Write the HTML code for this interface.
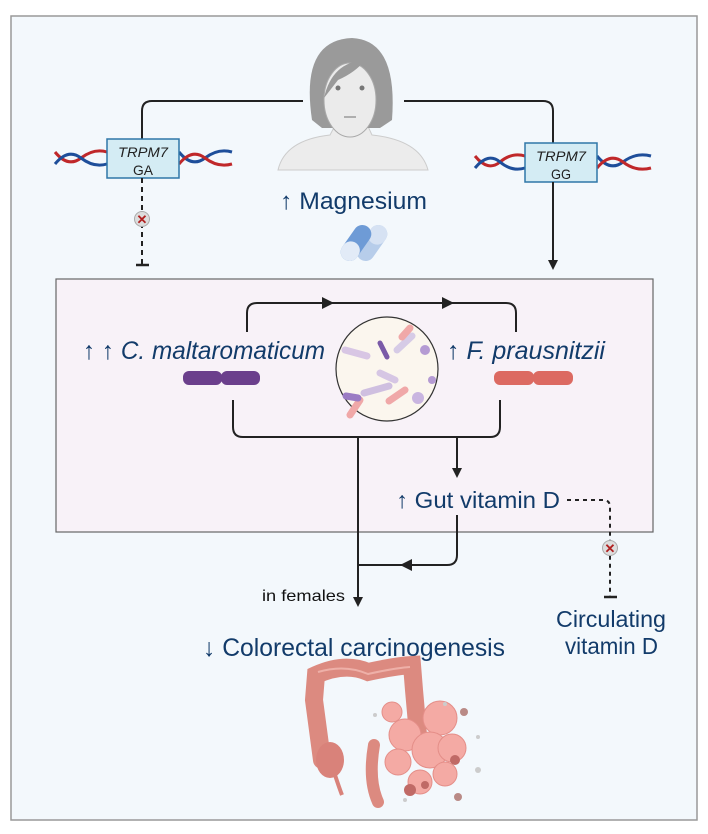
<!DOCTYPE html>
<html><head><meta charset="utf-8"><style>
html,body{margin:0;padding:0;background:#fff;}
svg{display:block;}
text{font-family:"Liberation Sans",sans-serif;}
</style></head><body>
<svg width="708" height="834" viewBox="0 0 708 834" xmlns="http://www.w3.org/2000/svg">
<defs>
<marker id="ah" markerWidth="10" markerHeight="10" refX="8" refY="5" orient="auto" markerUnits="userSpaceOnUse"><path d="M0,0 L10,5 L0,10 z" fill="#222"/></marker>
</defs>
<rect x="0" y="0" width="708" height="834" fill="#fff"/>
<rect x="11" y="16" width="686" height="804" fill="#f3f8fc" stroke="#999" stroke-width="1.5"/>
<!-- person -->
<path d="M278,170 Q285,140 330,135 L338,120 L365,120 L372,135 Q420,140 428,170 Z" fill="#ececec" stroke="#ccc"/>
<path d="M312,120 Q300,40 352,38 Q398,40 392,120 L380,128 L322,128 Z" fill="#9a9a9a"/>
<ellipse cx="350" cy="100" rx="26" ry="37" fill="#ebebeb" stroke="#aaa"/>
<path d="M324,98 Q332,62 365,60 Q356,72 338,80 Z" fill="#9a9a9a"/>
<circle cx="338" cy="88" r="2.5" fill="#777"/><circle cx="362" cy="88" r="2.5" fill="#777"/>
<path d="M344,117 L356,117" stroke="#999" stroke-width="1.5"/>
<!-- top connectors -->
<path d="M303,101 L152,101 Q142,101 142,111 L142,139" fill="none" stroke="#222" stroke-width="2"/>
<path d="M404,101 L543,101 Q553,101 553,111 L553,143" fill="none" stroke="#222" stroke-width="2"/>
<!-- DNA -->
<g fill="none" stroke-width="3">
<path d="M55,152 Q68,168 81,158 T107,152" stroke="#c0282a"/>
<path d="M55,164 Q68,148 81,158 T107,164" stroke="#1e4e9a"/>
<path d="M179,152 Q192,168 205,158 T232,152" stroke="#1e4e9a"/>
<path d="M179,164 Q192,148 205,158 T232,164" stroke="#c0282a"/>
<path d="M475,156 Q488,172 500,162 T525,156" stroke="#c0282a"/>
<path d="M475,168 Q488,152 500,162 T525,168" stroke="#1e4e9a"/>
<path d="M597,156 Q610,172 623,162 T651,156" stroke="#1e4e9a"/>
<path d="M597,168 Q610,152 623,162 T651,168" stroke="#c0282a"/>
</g>
<rect x="107" y="139" width="72" height="39" fill="#d4ecf4" stroke="#2f77a8" stroke-width="1.5"/>
<text x="143" y="157" font-size="14" font-style="italic" text-anchor="middle" fill="#222" textLength="50" lengthAdjust="spacingAndGlyphs">TRPM7</text>
<text x="143" y="175" font-size="14" text-anchor="middle" fill="#222" textLength="20" lengthAdjust="spacingAndGlyphs">GA</text>
<rect x="525" y="143" width="72" height="39" fill="#d4ecf4" stroke="#2f77a8" stroke-width="1.5"/>
<text x="561" y="161" font-size="14" font-style="italic" text-anchor="middle" fill="#222" textLength="50" lengthAdjust="spacingAndGlyphs">TRPM7</text>
<text x="561" y="179" font-size="14" text-anchor="middle" fill="#222" textLength="20" lengthAdjust="spacingAndGlyphs">GG</text>
<!-- left inhibition -->
<path d="M142,178 L142,264" stroke="#222" stroke-width="2" stroke-dasharray="5,4"/>
<path d="M136,265 L149,265" stroke="#222" stroke-width="2.5"/>
<circle cx="142" cy="219" r="7.5" fill="#ddd" stroke="#aaa"/>
<text x="142" y="224" font-size="13" font-weight="bold" text-anchor="middle" fill="#b02020">✕</text>
<!-- right arrow -->
<path d="M553,182 L553,268" stroke="#222" stroke-width="2" marker-end="url(#ah)"/>
<!-- magnesium -->
<text x="280" y="209" font-size="24" fill="#123b6a" textLength="147" lengthAdjust="spacingAndGlyphs">↑ Magnesium</text>
<g transform="translate(372,243) rotate(-55)">
<rect x="-20" y="-9" width="40" height="18" rx="9" fill="#b7cdea"/>
<rect x="0" y="-9" width="20" height="18" rx="9" fill="#d6e2f3"/>
</g>
<g transform="translate(356,243) rotate(-55)">
<rect x="-20" y="-9" width="40" height="18" rx="9" fill="#6e9bd6"/>
<rect x="-20" y="-9" width="20" height="18" rx="9" fill="#e2ebf7"/>
</g>
<!-- inner box -->
<rect x="56" y="279" width="597" height="253" fill="#f8f2f8" stroke="#666" stroke-width="1.2"/>
<path d="M247,332 L247,313 Q247,303 257,303 L506,303 Q516,303 516,313 L516,332" fill="none" stroke="#222" stroke-width="2"/>
<path d="M322,297 L334,303 L322,309 Z" fill="#222"/><path d="M442,297 L454,303 L442,309 Z" fill="#222"/>
<!-- circle -->
<ellipse cx="387" cy="369" rx="51" ry="52" fill="#fbf6ee" stroke="#333" stroke-width="1.2"/>
<g stroke-linecap="round" stroke-width="7">
<path d="M345,350 L367,356" stroke="#d8c6e4"/>
<path d="M364,393 L389,386" stroke="#cfbfe0"/>
<path d="M380,343 L387,357" stroke="#7a5aa8" stroke-width="5"/>
<path d="M397,350 L412,336" stroke="#d6cbe6"/>
<path d="M402,337 L410,328" stroke="#f0a8a8"/>
<path d="M389,401 L405,390" stroke="#f0a8a8"/>
<path d="M350,415 L360,400" stroke="#f0a8a8"/>
<path d="M380,373 L395,380" stroke="#d6c6e4"/>
<path d="M346,396 L358,398" stroke="#9b7cc4"/>
</g>
<circle cx="425" cy="350" r="5" fill="#b59bd3"/><circle cx="418" cy="398" r="6" fill="#c9b5e0"/><circle cx="432" cy="380" r="4" fill="#b59bd3"/>
<text x="83" y="359" font-size="25" fill="#123b6a" textLength="242" lengthAdjust="spacingAndGlyphs">↑ ↑ <tspan font-style="italic">C. maltaromaticum</tspan></text>
<text x="447" y="359" font-size="25" fill="#123b6a" textLength="158" lengthAdjust="spacingAndGlyphs">↑ <tspan font-style="italic">F. prausnitzii</tspan></text>
<rect x="183" y="371" width="39" height="14" rx="6" fill="#6b3f8c"/><rect x="221" y="371" width="39" height="14" rx="6" fill="#6b3f8c"/>
<rect x="494" y="371" width="40" height="14" rx="6" fill="#dc6a62"/><rect x="533" y="371" width="40" height="14" rx="6" fill="#dc6a62"/>
<!-- bottom loop -->
<path d="M233,400 L233,427 Q233,437 243,437 L490,437 Q500,437 500,427 L500,400" fill="none" stroke="#222" stroke-width="2"/>
<path d="M358,437 L358,605" stroke="#222" stroke-width="2" marker-end="url(#ah)"/>
<path d="M457,437 L457,476" stroke="#222" stroke-width="2" marker-end="url(#ah)"/>
<text x="396" y="508" font-size="23" fill="#123b6a" textLength="164" lengthAdjust="spacingAndGlyphs">↑ Gut vitamin D</text>
<path d="M567,500 L603,500 Q610,500 610,507 L610,596" fill="none" stroke="#222" stroke-width="2" stroke-dasharray="4,4"/>
<path d="M604,597 L617,597" stroke="#222" stroke-width="2.5"/>
<circle cx="610" cy="548" r="7.5" fill="#ddd" stroke="#aaa"/>
<text x="610" y="553" font-size="13" font-weight="bold" text-anchor="middle" fill="#b02020">✕</text>
<path d="M457,515 L457,555 Q457,565 447,565 L358,565" fill="none" stroke="#222" stroke-width="2"/>
<path d="M412,559 L400,565 L412,571 Z" fill="#222"/>
<text x="262" y="601" font-size="16" fill="#111" textLength="83" lengthAdjust="spacingAndGlyphs">in females</text>
<text x="556" y="627" font-size="23" fill="#123b6a" textLength="110" lengthAdjust="spacingAndGlyphs">Circulating</text>
<text x="565" y="654" font-size="23" fill="#123b6a" textLength="93" lengthAdjust="spacingAndGlyphs">vitamin D</text>
<text x="203" y="656" font-size="25" fill="#123b6a" textLength="302" lengthAdjust="spacingAndGlyphs">↓ Colorectal carcinogenesis</text>
<!-- colon -->
<g fill="none" stroke="#dc8a80" stroke-linecap="round">
<path d="M322,760 L314,700 L316,675 Q345,662 368,672 Q395,666 412,665 L414,690 L418,735" stroke-width="18"/>
<path d="M374,745 Q368,780 378,802" stroke-width="12"/>
</g>
<path d="M318,672 Q345,664 368,674 Q395,668 410,667" fill="none" stroke="#eeb0a8" stroke-width="2"/>
<ellipse cx="330" cy="760" rx="14" ry="18" fill="#d9827a"/>
<path d="M335,775 Q340,790 342,795" stroke="#d9827a" stroke-width="4" fill="none"/>
<g fill="#f4aaa4" stroke="#e48e88">
<circle cx="405" cy="735" r="16"/><circle cx="440" cy="718" r="17"/><circle cx="430" cy="750" r="18"/>
<circle cx="398" cy="762" r="13"/><circle cx="452" cy="748" r="14"/><circle cx="445" cy="774" r="12"/>
<circle cx="420" cy="782" r="12"/><circle cx="392" cy="712" r="10"/>
</g>
<g fill="#c06a66"><circle cx="455" cy="760" r="5"/><circle cx="425" cy="785" r="4"/><circle cx="464" cy="712" r="4" fill="#b98a86"/><circle cx="458" cy="797" r="4" fill="#b98a86"/><circle cx="410" cy="790" r="6"/></g>
<g fill="#ccc"><circle cx="375" cy="715" r="2"/><circle cx="478" cy="737" r="2"/><circle cx="478" cy="770" r="3"/><circle cx="405" cy="800" r="2"/><circle cx="445" cy="704" r="2"/></g>
</svg>
</body></html>
